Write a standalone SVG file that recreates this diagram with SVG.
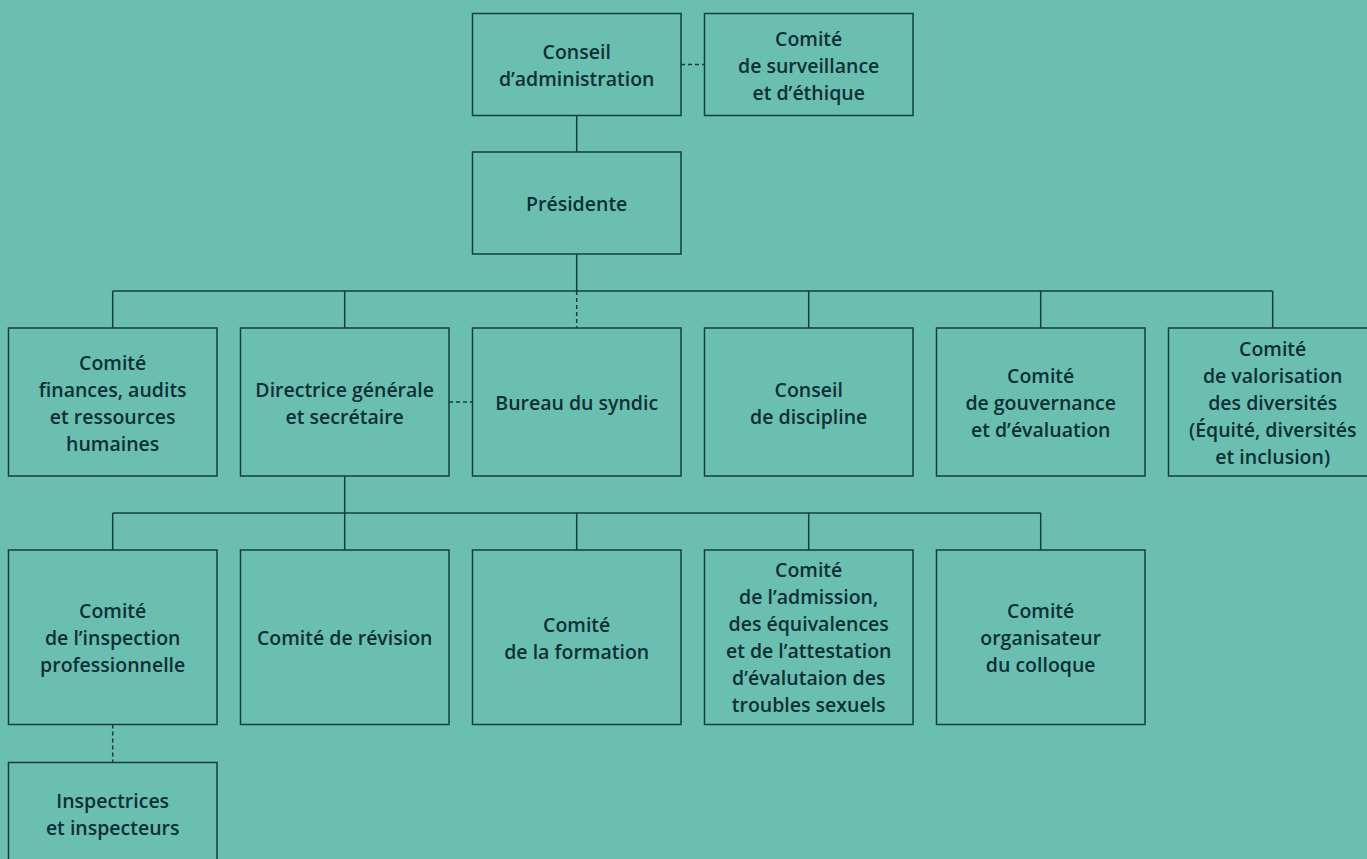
<svg xmlns="http://www.w3.org/2000/svg" width="1367" height="859" viewBox="0 0 1367 859">
<style>
.bg{fill:#6bbfb0}
.box{fill:#6bbfb0;stroke:#173c42;stroke-width:1.5}
.ln{fill:none;stroke:#173c42;stroke-width:1.5}
.dash{fill:none;stroke:#173c42;stroke-width:1.5;stroke-dasharray:4 3}
text{font-family:"Open Sans","Noto Sans","Liberation Sans",sans-serif;font-weight:600;font-size:19.5px;fill:#0e2f36;text-anchor:middle}
</style>
<rect class="bg" x="0" y="0" width="1367" height="859"/>
<g id="connectors">
<line class="dash" x1="681" y1="64.5" x2="704.5" y2="64.5"/>
<line class="ln" x1="576.7" y1="115.5" x2="576.7" y2="152"/>
<line class="ln" x1="576.7" y1="254" x2="576.7" y2="291"/>
<line class="ln" x1="112.7" y1="291" x2="1272.7" y2="291"/>
<line class="ln" x1="112.7" y1="291" x2="112.7" y2="328"/>
<line class="ln" x1="344.7" y1="291" x2="344.7" y2="328"/>
<line class="dash" x1="576.7" y1="291" x2="576.7" y2="328"/>
<line class="ln" x1="808.7" y1="291" x2="808.7" y2="328"/>
<line class="ln" x1="1040.7" y1="291" x2="1040.7" y2="328"/>
<line class="ln" x1="1272.7" y1="291" x2="1272.7" y2="328"/>
<line class="dash" x1="449" y1="402" x2="472.5" y2="402"/>
<line class="ln" x1="344.7" y1="476" x2="344.7" y2="550"/>
<line class="ln" x1="112.7" y1="513" x2="1040.7" y2="513"/>
<line class="ln" x1="112.7" y1="513" x2="112.7" y2="550"/>
<line class="ln" x1="576.7" y1="513" x2="576.7" y2="550"/>
<line class="ln" x1="808.7" y1="513" x2="808.7" y2="550"/>
<line class="ln" x1="1040.7" y1="513" x2="1040.7" y2="550"/>
<line class="dash" x1="112.7" y1="724.5" x2="112.7" y2="762.5"/>
</g>
<g id="conseil-admin"><rect class="box" x="472.5" y="13.5" width="208.5" height="102"/>
<text x="576.7" y="59">Conseil</text><text x="576.7" y="86">d’administration</text></g>
<g id="comite-surveillance"><rect class="box" x="704.5" y="13.5" width="208.5" height="102"/>
<text x="808.7" y="45.5">Comité</text><text x="808.7" y="72.5">de surveillance</text><text x="808.7" y="99.5">et d’éthique</text></g>
<g id="presidente"><rect class="box" x="472.5" y="152" width="208.5" height="102"/>
<text x="576.7" y="211">Présidente</text></g>
<g id="comite-finances"><rect class="box" x="8.5" y="328" width="208.5" height="148"/>
<text x="112.7" y="369.5">Comité</text><text x="112.7" y="396.5">finances, audits</text><text x="112.7" y="423.5">et ressources</text><text x="112.7" y="450.5">humaines</text></g>
<g id="directrice"><rect class="box" x="240.5" y="328" width="208.5" height="148"/>
<text x="344.7" y="396.5">Directrice générale</text><text x="344.7" y="423.5">et secrétaire</text></g>
<g id="bureau-syndic"><rect class="box" x="472.5" y="328" width="208.5" height="148"/>
<text x="576.7" y="410">Bureau du syndic</text></g>
<g id="conseil-discipline"><rect class="box" x="704.5" y="328" width="208.5" height="148"/>
<text x="808.7" y="396.5">Conseil</text><text x="808.7" y="423.5">de discipline</text></g>
<g id="comite-gouvernance"><rect class="box" x="936.5" y="328" width="208.5" height="148"/>
<text x="1040.7" y="383">Comité</text><text x="1040.7" y="410">de gouvernance</text><text x="1040.7" y="437">et d’évaluation</text></g>
<g id="comite-valorisation"><rect class="box" x="1168.5" y="328" width="208.5" height="148"/>
<text x="1272.7" y="356">Comité</text><text x="1272.7" y="383">de valorisation</text><text x="1272.7" y="410">des diversités</text><text x="1272.7" y="437">(Équité, diversités</text><text x="1272.7" y="464">et inclusion)</text></g>
<g id="comite-inspection"><rect class="box" x="8.5" y="550" width="208.5" height="174.5"/>
<text x="112.7" y="618">Comité</text><text x="112.7" y="645">de l’inspection</text><text x="112.7" y="672">professionnelle</text></g>
<g id="comite-revision"><rect class="box" x="240.5" y="550" width="208.5" height="174.5"/>
<text x="344.7" y="645">Comité de révision</text></g>
<g id="comite-formation"><rect class="box" x="472.5" y="550" width="208.5" height="174.5"/>
<text x="576.7" y="631.5">Comité</text><text x="576.7" y="658.5">de la formation</text></g>
<g id="comite-admission"><rect class="box" x="704.5" y="550" width="208.5" height="174.5"/>
<text x="808.7" y="577">Comité</text><text x="808.7" y="604">de l’admission,</text><text x="808.7" y="631">des équivalences</text><text x="808.7" y="658">et de l’attestation</text><text x="808.7" y="685">d’évalutaion des</text><text x="808.7" y="712">troubles sexuels</text></g>
<g id="comite-colloque"><rect class="box" x="936.5" y="550" width="208.5" height="174.5"/>
<text x="1040.7" y="618">Comité</text><text x="1040.7" y="645">organisateur</text><text x="1040.7" y="672">du colloque</text></g>
<g id="inspectrices"><rect class="box" x="8.5" y="762.5" width="208.5" height="102"/>
<text x="112.7" y="808">Inspectrices</text><text x="112.7" y="835">et inspecteurs</text></g>
</svg>
